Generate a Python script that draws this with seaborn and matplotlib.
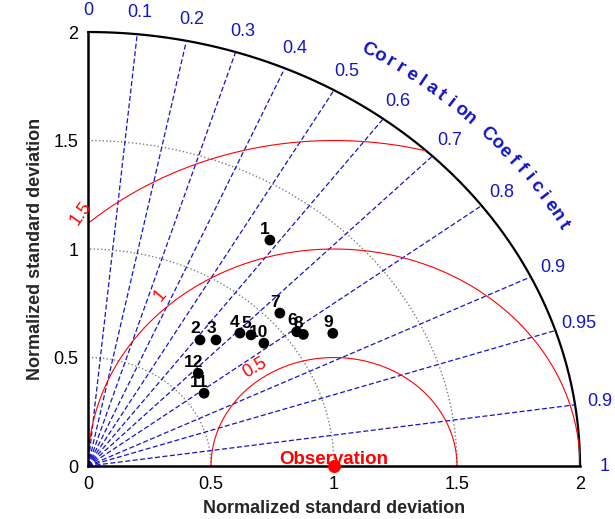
import numpy as np
import pandas as pd
import matplotlib
matplotlib.use('Agg')
import matplotlib.pyplot as plt
import seaborn as sns

# model statistics (normalized std, correlation with observation)
model_ids = ['1', '2', '3', '4', '5', '6', '7', '8', '9', '10', '11', '12']
norm_std = [1.277, 0.738, 0.780, 0.870, 0.897, 1.050, 1.051, 1.065, 1.168, 0.912, 0.579, 0.619]
corr = [0.579, 0.617, 0.667, 0.710, 0.739, 0.808, 0.742, 0.822, 0.852, 0.784, 0.815, 0.724]

obs_std = 1.0
std_ticks = [0, 0.5, 1, 1.5, 2]
std_grid = [0.5, 1.0, 1.5]
rms_levels = [0.5, 1.0, 1.5]
rms_labels = ['0.5', '1', '1.5']
corr_lines = [0.1, 0.2, 0.3, 0.4, 0.5, 0.6, 0.7, 0.8, 0.9, 0.95, 0.99]
corr_ticks = [0, 0.1, 0.2, 0.3, 0.4, 0.5, 0.6, 0.7, 0.8, 0.9, 0.95, 0.99, 1]
corr_tick_labels = ['0', '0.1', '0.2', '0.3', '0.4', '0.5', '0.6', '0.7', '0.8', '0.9', '0.95', '0.9', '1']

sns.set_style('white')
plt.rcParams['font.family'] = ['Liberation Sans', 'DejaVu Sans']

BLUE = '#1414C8'
RMAX = 2.0

df = pd.DataFrame({'id': model_ids, 'std': norm_std, 'corr': corr})
df['x'] = df['std'] * df['corr']
df['y'] = df['std'] * np.sin(np.arccos(df['corr']))

fig = plt.figure(figsize=(6.15, 5.19), dpi=100)
ax = fig.add_axes([0.1431, 0.1021, 0.8, 0.8362])
ax.set_xlim(0, RMAX)
ax.set_ylim(0, RMAX)

t = np.linspace(0, np.pi / 2, 300)

# std circles (dotted grey)
for r in std_grid:
    ax.plot(r * np.cos(t), r * np.sin(t), color='grey', ls=':', lw=1)

# outer arc
ax.plot(RMAX * np.cos(t), RMAX * np.sin(t), color='black', lw=1.6, clip_on=False)

# correlation rays
for c in corr_lines:
    th = np.arccos(c)
    ax.plot([0, RMAX * np.cos(th)], [0, RMAX * np.sin(th)], color=BLUE,
            ls=(0, (4, 2)), lw=0.9)

# centered RMS circles around observation
tt = np.linspace(0, np.pi, 600)
for r in rms_levels:
    xs = obs_std + r * np.cos(tt)
    ys = r * np.sin(tt)
    keep = (np.hypot(xs, ys) <= RMAX + 1e-6) & (xs >= 0)
    ax.plot(np.where(keep, xs, np.nan), np.where(keep, ys, np.nan), color='red', lw=0.8)

# rms labels
rms_pos = [(0.679, 0.452, 30), (0.293, 0.788, 50), (-0.03, 1.165, 55)]
for lab, (lx, ly, rot) in zip(rms_labels, rms_pos):
    ax.text(lx, ly, lab, color='red', fontsize=13, rotation=rot,
            ha='center', va='center', clip_on=False)

# correlation tick labels
for c, lab in zip(corr_ticks, corr_tick_labels):
    th = np.arccos(c)
    ax.text(2.1 * np.cos(th), 2.1 * np.sin(th), lab, color=BLUE, fontsize=13,
            ha='center', va='center', clip_on=False)

# curved title
title = 'Correlation Coefficient'
th0, dth, rr = 59.3, 1.336, 2.23
for i, ch in enumerate(title):
    if ch == ' ':
        continue
    th = np.radians(th0 - i * dth)
    rot = np.degrees(np.arctan2(-217 * np.cos(th), 246 * np.sin(th)))
    ax.text(rr * np.cos(th), rr * np.sin(th), ch, color=BLUE, fontsize=13.5,
            fontweight='bold', rotation=rot, ha='center', va='center',
            rotation_mode='anchor', clip_on=False)

# models
sns.scatterplot(data=df, x='x', y='y', color='black', s=60, edgecolor='none',
                ax=ax, zorder=5, legend=False)
for _, row in df.iterrows():
    ax.annotate(row['id'], (row['x'], row['y']), xytext=(-5, 11),
                textcoords='offset pixels', ha='center', va='center',
                fontsize=12.5, fontweight='bold', color='black', zorder=6)

# observation
ax.scatter([obs_std], [0], color='red', s=70, zorder=6, clip_on=False)
ax.text(obs_std, 0.008, 'Observation', color='red', fontsize=13.5,
        fontweight='bold', ha='center', va='baseline', zorder=7)

ax.set_xticks(std_ticks)
ax.set_yticks(std_ticks)
ax.set_xticklabels(['0', '0.5', '1', '1.5', '2'])
ax.set_yticklabels(['0', '0.5', '1', '1.5', '2'])
ax.tick_params(length=0, labelsize=13, pad=7, colors='black')
for s in ['top', 'right']:
    ax.spines[s].set_visible(False)
for s in ['left', 'bottom']:
    ax.spines[s].set_color('black')
    ax.spines[s].set_linewidth(1.8)

ax.set_xlabel('Normalized standard deviation', fontsize=13, fontweight='bold', labelpad=5)
ax.set_ylabel('Normalized standard deviation', fontsize=13, fontweight='bold', labelpad=7)

fig.savefig('out.png', dpi=100)
